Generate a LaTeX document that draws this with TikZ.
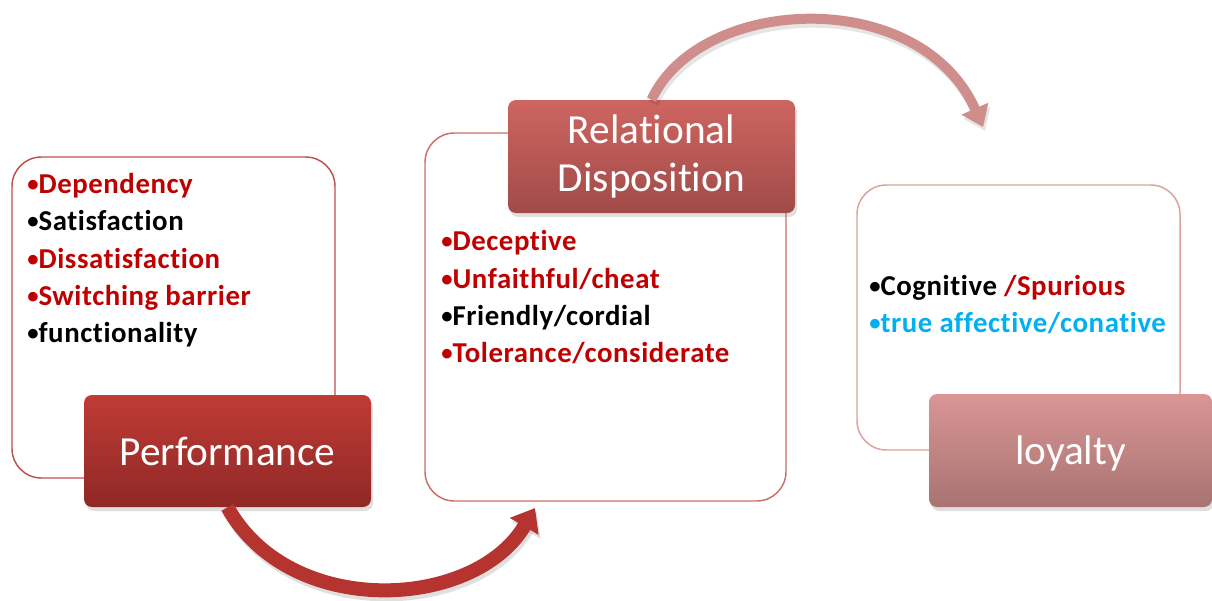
\documentclass[tikz,border=0pt]{standalone}
\usepackage{fontspec}
\setmainfont{Carlito}[Ligatures=NoCommon]
\usetikzlibrary{arrows.meta,shadows}

\definecolor{hotred}{HTML}{C00000}
\definecolor{skyblue}{HTML}{00B0F0}
\definecolor{perfTop}{HTML}{C03B35}
\definecolor{perfBot}{HTML}{8F2826}
\definecolor{relTop}{HTML}{CE6561}
\definecolor{relBot}{HTML}{A04B48}
\definecolor{loyTop}{HTML}{D99694}
\definecolor{loyBot}{HTML}{A87372}
\definecolor{edgeA}{HTML}{C0504D}
\definecolor{edgeB}{HTML}{CD6E6A}
\definecolor{edgeC}{HTML}{DBA2A0}
\definecolor{arrowA}{HTML}{B5342F}
\definecolor{arrowB}{HTML}{CF8E8C}

% small list bullet
\newcommand{\lbul}{{\fontsize{17}{17}\selectfont\raisebox{0.06em}{•}}}

\begin{document}
\begin{tikzpicture}[x=0.75pt,y=-0.75pt,
  panel/.style={draw, line width=1.1pt, rounded corners=22pt, fill=white, inner sep=0pt},
  titlebox/.style={rounded corners=6pt, text=white, align=center, inner sep=0pt,
    font=\fontsize{31}{36}\selectfont,
    drop shadow={opacity=0.25, shadow xshift=1.5pt, shadow yshift=-3pt}},
  item/.style={anchor=base west, inner sep=0pt,
    font=\fontsize{21.6}{25}\selectfont\bfseries\addfontfeature{LetterSpace=2}},
  flow/.style={line cap=butt}
]
\useasboundingbox (0,0) rectangle (1212,600);

% outlined panels
\node[panel, draw=edgeA, minimum width=242.25pt, minimum height=240.75pt] (pnlA) at (173.5,317.5) {};
\node[panel, draw=edgeB, minimum width=270.75pt, minimum height=276pt] (pnlB) at (605.5,317) {};
\node[panel, draw=edgeC, minimum width=242.25pt, minimum height=198.75pt] (pnlC) at (1018.5,317.5) {};

% title boxes
\node[titlebox, top color=perfTop, bottom color=perfBot, minimum width=215.25pt, minimum height=84pt] (perf) at (227.5,451) {Performance};
\node[titlebox, top color=relTop, bottom color=relBot, minimum width=215.25pt, minimum height=84.75pt] (rel) at (651.5,156.5) {Relational\\Disposition};
\node[titlebox, top color=loyTop, bottom color=loyBot, minimum width=212.25pt, minimum height=84.75pt, text depth=0pt] (loy) at (1070.5,450.5) {loyalty};

% bullet lists
\node[item, text=hotred] (a1) at (27,193) {\lbul Dependency};
\node[item, text=black]  (a2) at (27,230) {\lbul Satisfaction};
\node[item, text=hotred] (a3) at (27,268) {\lbul Dissatisfaction};
\node[item, text=hotred] (a4) at (27,305) {\lbul Switching barrier};
\node[item, text=black]  (a5) at (27,342) {\lbul functionality};

\node[item, text=hotred] (b1) at (441,250) {\lbul Deceptive};
\node[item, text=hotred] (b2) at (441,288) {\lbul Unfaithful/cheat};
\node[item, text=black]  (b3) at (441,325) {\lbul Friendly/cordial};
\node[item, text=hotred] (b4) at (441,362) {\lbul Tolerance/considerate};

\node[item, text=black]   (c1) at (869,295) {\lbul Cognitive \textcolor{hotred}{/Spurious}};
\node[item, text=skyblue] (c2) at (869,332) {\lbul true affective/conative};

% curved arrows
\coordinate (endA) at (535,508);
\coordinate (endB) at (983,127);

\draw[flow, line width=10.5pt, black, opacity=0.12, -{Triangle[length=16pt,width=24pt]}]
  ([shift={(2,4)}]perf.south) .. controls (292,624) and (477,614) .. ([shift={(2,4)}]endA);
\draw[flow, line width=10.5pt, arrowA, -{Triangle[length=16pt,width=24pt]}]
  (perf.south) .. controls (290,620) and (475,610) .. (endA);

\draw[flow, line width=7.5pt, black, opacity=0.10, -{Triangle[length=15pt,width=21pt]}]
  ([shift={(2,4)}]rel.north) .. controls (702,-1) and (922,-11) .. ([shift={(2,4)}]endB);
\draw[flow, line width=7.5pt, arrowB, -{Triangle[length=15pt,width=21pt]}]
  (rel.north) .. controls (700,-5) and (920,-15) .. (endB);
\end{tikzpicture}
\end{document}
